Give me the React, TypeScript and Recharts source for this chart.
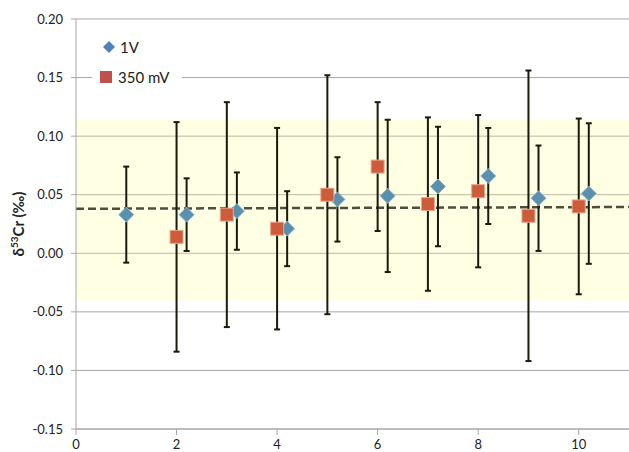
import React from 'react';
import {
  ScatterChart,
  Scatter,
  XAxis,
  YAxis,
  CartesianGrid,
  ErrorBar,
  ReferenceArea,
  ReferenceLine,
} from 'recharts';

// 1V runs: x position, delta value, +/- uncertainty
const v1X = [1, 2.2, 3.2, 4.2, 5.2, 6.2, 7.2, 8.2, 9.2, 10.2];
const v1Y = [0.033, 0.033, 0.036, 0.021, 0.046, 0.049, 0.057, 0.066, 0.047, 0.051];
const v1Err = [0.041, 0.031, 0.033, 0.032, 0.036, 0.065, 0.051, 0.041, 0.045, 0.06];

// 350 mV runs
const mvX = [2, 3, 4, 5, 6, 7, 8, 9, 10];
const mvY = [0.014, 0.033, 0.021, 0.05, 0.074, 0.042, 0.053, 0.032, 0.04];
const mvErr = [0.098, 0.096, 0.086, 0.102, 0.055, 0.074, 0.065, 0.124, 0.075];

const xTicks = [0, 2, 4, 6, 8, 10];
const yTicks = [-0.15, -0.1, -0.05, 0, 0.05, 0.1, 0.15, 0.2];

// long-term reproducibility band and mean
const bandLow = -0.04;
const bandHigh = 0.114;
const meanStart = 0.038;
const meanEnd = 0.0395;

const v1Data = v1X.map((x, i) => ({ x, y: v1Y[i], err: v1Err[i] }));
const mvData = mvX.map((x, i) => ({ x, y: mvY[i], err: mvErr[i] }));

const FONT = 'Lato, "Open Sans", sans-serif';

const Diamond = (props: any) => {
  const { cx, cy } = props;
  const r = 7.5;
  return (
    <path
      d={`M${cx},${cy - r} L${cx + r},${cy} L${cx},${cy + r} L${cx - r},${cy} Z`}
      fill="#5b8fae"
      stroke="#8db6cf"
      strokeWidth={1}
    />
  );
};

const Square = (props: any) => {
  const { cx, cy } = props;
  const s = 13;
  return (
    <rect
      x={cx - s / 2}
      y={cy - s / 2}
      width={s}
      height={s}
      fill="#cd5c3c"
      stroke="#eda48a"
      strokeWidth={1}
    />
  );
};

const YLabel = () => (
  <text
    transform="translate(24,224) rotate(-90)"
    textAnchor="middle"
    fontFamily={FONT}
    fontWeight="bold"
    fontSize={15}
    fill="#222"
  >
    δ<tspan fontSize={10} dy={-6}>53</tspan>
    <tspan dy={6}>Cr (‰)</tspan>
  </text>
);

export default function App() {
  return (
    <div style={{ position: 'absolute', left: 0, top: 0, width: 629, height: 452, background: '#fff' }}>
      <ScatterChart width={629} height={452} margin={{ top: 19, right: 0, bottom: 0, left: 0 }}>
        <ReferenceArea
          y1={bandLow}
          y2={bandHigh}
          x1={0}
          x2={11}
          fill="#ffff80"
          fillOpacity={0.22}
          stroke="none"
          ifOverflow="visible"
        />
        <CartesianGrid vertical={false} stroke="#a6a6a6" strokeWidth={1} />
        <XAxis
          type="number"
          dataKey="x"
          domain={[0, 11]}
          ticks={xTicks}
          height={23}
          tickSize={6}
          tickMargin={5}
          stroke="#a6a6a6"
          tick={{ fill: '#222', fontSize: 13, fontFamily: FONT }}
          allowDataOverflow
        />
        <YAxis
          type="number"
          dataKey="y"
          domain={[-0.15, 0.2]}
          ticks={yTicks}
          width={76}
          tickSize={5}
          tickMargin={8}
          stroke="#a6a6a6"
          tickFormatter={(v: number) => v.toFixed(2)}
          tick={{ fill: '#222', fontSize: 13, fontFamily: FONT }}
          label={<YLabel />}
        />
        <ReferenceLine
          segment={[
            { x: 0, y: meanStart },
            { x: 11, y: meanEnd },
          ]}
          stroke="#4d4d3d"
          strokeWidth={2.5}
          strokeDasharray="8 4"
        />
        <Scatter name="1V" data={v1Data} shape={<Diamond />} isAnimationActive={false}>
          <ErrorBar dataKey="err" direction="y" width={3} stroke="#1a1a0a" strokeWidth={2} />
        </Scatter>
        <Scatter name="350 mV" data={mvData} shape={<Square />} isAnimationActive={false}>
          <ErrorBar dataKey="err" direction="y" width={3} stroke="#1a1a0a" strokeWidth={2} />
        </Scatter>
      </ScatterChart>
      <div
        style={{
          position: 'absolute',
          left: 92,
          top: 30,
          width: 90,
          height: 60,
          background: '#fff',
          fontFamily: FONT,
          fontSize: 15,
          color: '#222',
        }}
      >
        <div style={{ position: 'absolute', left: 11, top: 8, display: 'flex', alignItems: 'center' }}>
          <svg width={12} height={12}>
            <path d="M6,0 L12,6 L6,12 L0,6 Z" fill="#4f81bd" />
          </svg>
          <span style={{ marginLeft: 5 }}>1V</span>
        </div>
        <div style={{ position: 'absolute', left: 8, top: 38, display: 'flex', alignItems: 'center' }}>
          <svg width={12} height={12}>
            <rect x={0} y={0} width={12} height={12} fill="#c0504d" />
          </svg>
          <span style={{ marginLeft: 6 }}>350 mV</span>
        </div>
      </div>
    </div>
  );
}
